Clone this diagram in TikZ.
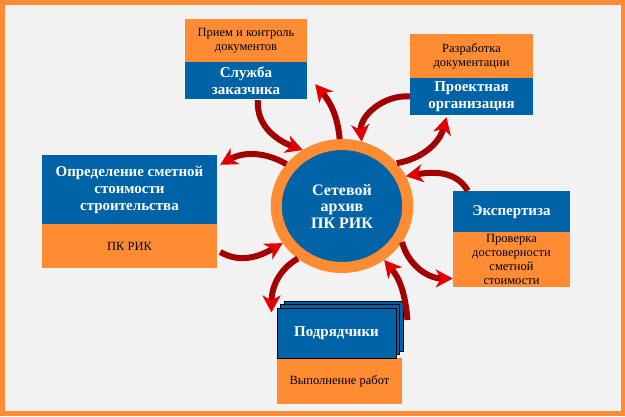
\documentclass[tikz,border=0pt]{standalone}
\usepackage{fontspec}
\setmainfont{Liberation Serif}
\usetikzlibrary{calc}
\usetikzlibrary{arrows.meta}
\usetikzlibrary{shapes.geometric}

\definecolor{boxblue}{RGB}{0,99,168}
\definecolor{boxorange}{RGB}{255,140,50}
\definecolor{paper}{RGB}{242,242,242}
\definecolor{arrowdark}{RGB}{165,0,0}
\definecolor{arrowred}{RGB}{228,0,0}

\begin{document}
\begin{tikzpicture}[x=1pt,y=1pt,yscale=-1]
\tikzset{headbox/.style={rectangle,fill=boxblue,text=white,inner sep=0,align=center,minimum width=#1,font=\bfseries\fontsize{15}{17}\selectfont}}
\tikzset{notebox/.style={rectangle,fill=boxorange,text=black,inner sep=0,align=center,minimum width=#1,font=\fontsize{12.5}{14}\selectfont}}
\tikzset{flowarrow/.style={draw=arrowdark,line width=6pt,-{Stealth[length=17pt,width=18pt,inset=5pt,color=arrowred]}}}

% frame
\useasboundingbox (0,0) rectangle (625,416);
\fill[boxorange] (0,0) rectangle (625,416);
\fill[paper] (5,5) rectangle (621,411);

% boxes round the archive
\node[notebox=122,minimum height=43] (zakaz-note) at (246,40.5) {Прием и контроль\\документов};
\node[headbox=122,minimum height=37] (zakaz) at (246,80.5) {Служба\\заказчика};

\node[notebox=123,minimum height=44] (proekt-note) at (471.5,56) {Разработка\\документации};
\node[headbox=123,minimum height=37] (proekt) at (471.5,96.5) {Проектная\\организация};

\node[headbox=175,minimum height=69] (smeta) at (129.5,189.5) {Определение сметной\\стоимости\\строительства};
\node[notebox=175,minimum height=44] (smeta-note) at (129.5,246) {ПК РИК};

\node[headbox=117,minimum height=42] (expert) at (511.5,212) {Экспертиза};
\node[notebox=117,minimum height=55] (expert-note) at (511.5,259.5) {Проверка\\достоверности\\сметной\\стоимости};

% contractors - a stack of sheets
\node[notebox=125,minimum height=46] (podr-note) at (339.5,381) {Выполнение работ};
\coordinate (podr-c) at (336.5,333);
\foreach \d/\n in {7/back,3.5/mid}
  \node[headbox=119,minimum height=50,draw=black,line width=1pt] (podr-\n) at ($(podr-c)+(\d,-\d)$) {};
\node[headbox=119,minimum height=50,draw=black,line width=1pt] (podr) at (podr-c) {Подрядчики};

% archive
\node[ellipse,fill=boxblue,draw=boxorange,line width=11pt,inner sep=0,minimum width=131.5,minimum height=123,
  text=white,align=center,font=\bfseries\fontsize{16}{16.5}\selectfont] (archive) at (342,206) {Сетевой\\архив\\ПК РИК};

% arrows
\draw[flowarrow] ($(zakaz.south)+(12,1)$) to[out=95,in=200] (archive.125);
\draw[flowarrow] (archive.92) to[out=-95,in=50] ($(zakaz.south east)+(8,-15)$);
\draw[flowarrow] (proekt.west) to[out=185,in=-95] (archive.73);
\draw[flowarrow] (archive.38) to[out=-10,in=105] ($(proekt.south)+(-25,2)$);
\draw[flowarrow] ($(expert.north west)+(15,0)$) to[out=-120,in=-10] (archive.25);
\draw[flowarrow] (archive.-31) to[out=75,in=180] ($(expert-note.west)+(0,19)$);
\draw[flowarrow] ($(podr.east)+(11,-13)$) to[out=-95,in=50] (archive.-52);
\draw[flowarrow] (archive.-130) to[out=150,in=-90] ($(podr.north west)+(-5,5)$);
\draw[flowarrow] ($(smeta-note.east)+(3,6)$) to[out=30,in=150] (archive.-148);
\draw[flowarrow] (archive.143) to[out=-150,in=-30] ($(smeta.north east)+(3,10)$);

\end{tikzpicture}
\end{document}
